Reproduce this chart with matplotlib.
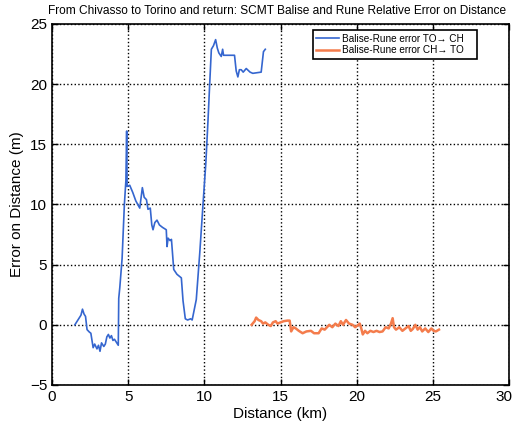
import matplotlib
matplotlib.use("Agg")
import matplotlib.pyplot as plt
import matplotlib.transforms as mtransforms

plt.rcParams['font.family'] = ['Liberation Sans', 'DejaVu Sans']

title = "From Chivasso to Torino and return: SCMT Balise and Rune Relative Error on Distance"
xlabel = "Distance (km)"
ylabel = "Error on Distance (m)"
label_to_ch = "Balise-Rune error TO\u2192 CH"
label_ch_to = "Balise-Rune error CH\u2192 TO"

to_ch_km = [1.5, 1.75, 1.9, 2.0, 2.1, 2.2, 2.3, 2.45, 2.55, 2.7, 2.8, 2.95, 3.05, 3.15,
            3.25, 3.4, 3.5, 3.6, 3.7, 3.8, 3.9, 4.0, 4.1, 4.2, 4.35, 4.38, 4.45, 4.6,
            4.75, 4.85, 4.9, 4.93, 5.1, 5.3, 5.5, 5.76, 5.93, 6.05, 6.2, 6.3, 6.45,
            6.55, 6.63, 6.75, 6.89, 7.05, 7.25, 7.5, 7.55, 7.62, 7.75, 7.84, 7.99,
            8.2, 8.49, 8.6, 8.75, 8.9, 9.1, 9.2, 9.47, 9.7, 9.9, 10.1, 10.24, 10.35,
            10.46, 10.6, 10.74, 10.85, 10.95, 11.11, 11.2, 11.26, 11.5, 11.98, 12.09,
            12.2, 12.3, 12.42, 12.55, 12.75, 13.0, 13.18, 13.73, 13.88, 14.0]
to_ch_err = [0.0, 0.5, 0.8, 1.3, 0.9, 0.7, -0.4, -0.6, -0.7, -1.9, -1.6, -2.0, -1.7, -2.2,
             -1.5, -1.8, -1.6, -1.0, -0.8, -1.1, -0.9, -1.3, -1.2, -1.4, -1.7, 2.2, 3.1, 5.5,
             10.0, 12.0, 16.1, 11.5, 11.6, 11.0, 10.3, 9.7, 11.4, 10.6, 10.4, 9.6, 9.7,
             8.3, 7.9, 8.5, 8.7, 8.3, 8.1, 7.9, 6.5, 7.2, 7.0, 7.1, 4.6,
             4.2, 3.9, 2.0, 0.5, 0.4, 0.5, 0.4, 2.1, 6.0, 9.8, 13.5, 17.0, 20.0,
             22.9, 23.2, 23.7, 23.0, 22.6, 22.3, 22.9, 22.4, 22.4, 22.4, 21.1,
             20.6, 21.2, 21.2, 21.0, 21.3, 21.0, 20.9, 21.0, 22.7, 22.9]

ch_to_km = [13.1, 13.3, 13.4, 13.55, 13.73, 13.85, 14.0, 14.2, 14.36, 14.5, 14.68, 14.8,
            15.0, 15.2, 15.45, 15.6, 15.7, 15.85, 16.0, 16.2, 16.45, 16.7, 17.0, 17.2,
            17.5, 17.7, 17.9, 18.2, 18.4, 18.6, 18.8, 18.96, 19.1, 19.3, 19.5, 19.73,
            19.9, 20.2, 20.3, 20.4, 20.55, 20.7, 20.9, 21.1, 21.3, 21.5, 21.7, 21.9,
            22.1, 22.25, 22.36, 22.45, 22.58, 22.8, 23.0, 23.2, 23.4, 23.55, 23.68,
            23.85, 24.0, 24.15, 24.3, 24.5, 24.7, 24.9, 25.05, 25.2, 25.4]
ch_to_err = [0.0, 0.3, 0.6, 0.4, 0.3, 0.1, 0.2, 0.0, -0.1, 0.2, 0.3, 0.1,
             0.2, 0.3, 0.35, 0.35, -0.55, -0.2, -0.3, -0.5, -0.7, -0.55, -0.5, -0.7,
             -0.7, -0.3, -0.4, 0.0, -0.2, 0.1, -0.1, 0.3, 0.0, 0.4, 0.1, 0.0,
             -0.2, 0.1, -0.3, -0.8, -0.5, -0.7, -0.5, -0.6, -0.5, -0.6, -0.55, -0.2,
             -0.3, 0.1, 0.55, -0.2, -0.4, -0.2, -0.5, -0.3, -0.1, -0.5, -0.35,
             0.0, -0.4, -0.2, -0.55, -0.3, -0.6, -0.3, -0.5, -0.55, -0.4]

x_ticks = [0, 5, 10, 15, 20, 25, 30]
y_ticks = [-5, 0, 5, 10, 15, 20, 25]

fig = plt.figure(figsize=(5.16, 4.30), dpi=100)
ax = fig.add_axes([0.1008, 0.1047, 0.8857, 0.8395])

ax.plot(to_ch_km, to_ch_err, color='#3566cf', lw=1.2, label=label_to_ch, zorder=3)
ax.plot(ch_to_km, ch_to_err, color='#f47c4c', lw=1.8, label=label_ch_to, zorder=3)

ax.set_xlim(0, 30)
ax.set_ylim(-5, 25)
ax.set_xticks(x_ticks)
ax.set_yticks(y_ticks)
ax.set_yticklabels([str(t).replace('-', '\u2212') for t in y_ticks])
ax.tick_params(direction='in', top=True, right=True, labelsize=11, length=4, width=1)
ax.grid(True, color='black', linestyle=':', linewidth=1.0)
for s in ax.spines.values():
    s.set_linewidth(1.2)
    s.set_color('black')

# nudge the last x tick label so it stays inside the figure
last = ax.get_xticklabels()[-1]
last.set_transform(last.get_transform() +
                   mtransforms.ScaledTranslation(-4/72, 0, fig.dpi_scale_trans))

ax.set_xlabel(xlabel, fontsize=11, labelpad=2)
ax.set_ylabel(ylabel, fontsize=11, labelpad=4)

fig.text(48/516, 1 - 11.5/430, title, fontsize=8.6, ha='left', va='center')

leg = ax.legend(loc='upper left', bbox_to_anchor=(0.570, 0.90, 0.360, 0.083),
                mode='expand', fontsize=7.2,
                frameon=True, fancybox=False, edgecolor='black', framealpha=1,
                borderpad=0.35, handlelength=2.3, handletextpad=0.3,
                labelspacing=0.15, borderaxespad=0.0)
leg.get_frame().set_linewidth(1.2)

fig.savefig("out.png", dpi=100)
